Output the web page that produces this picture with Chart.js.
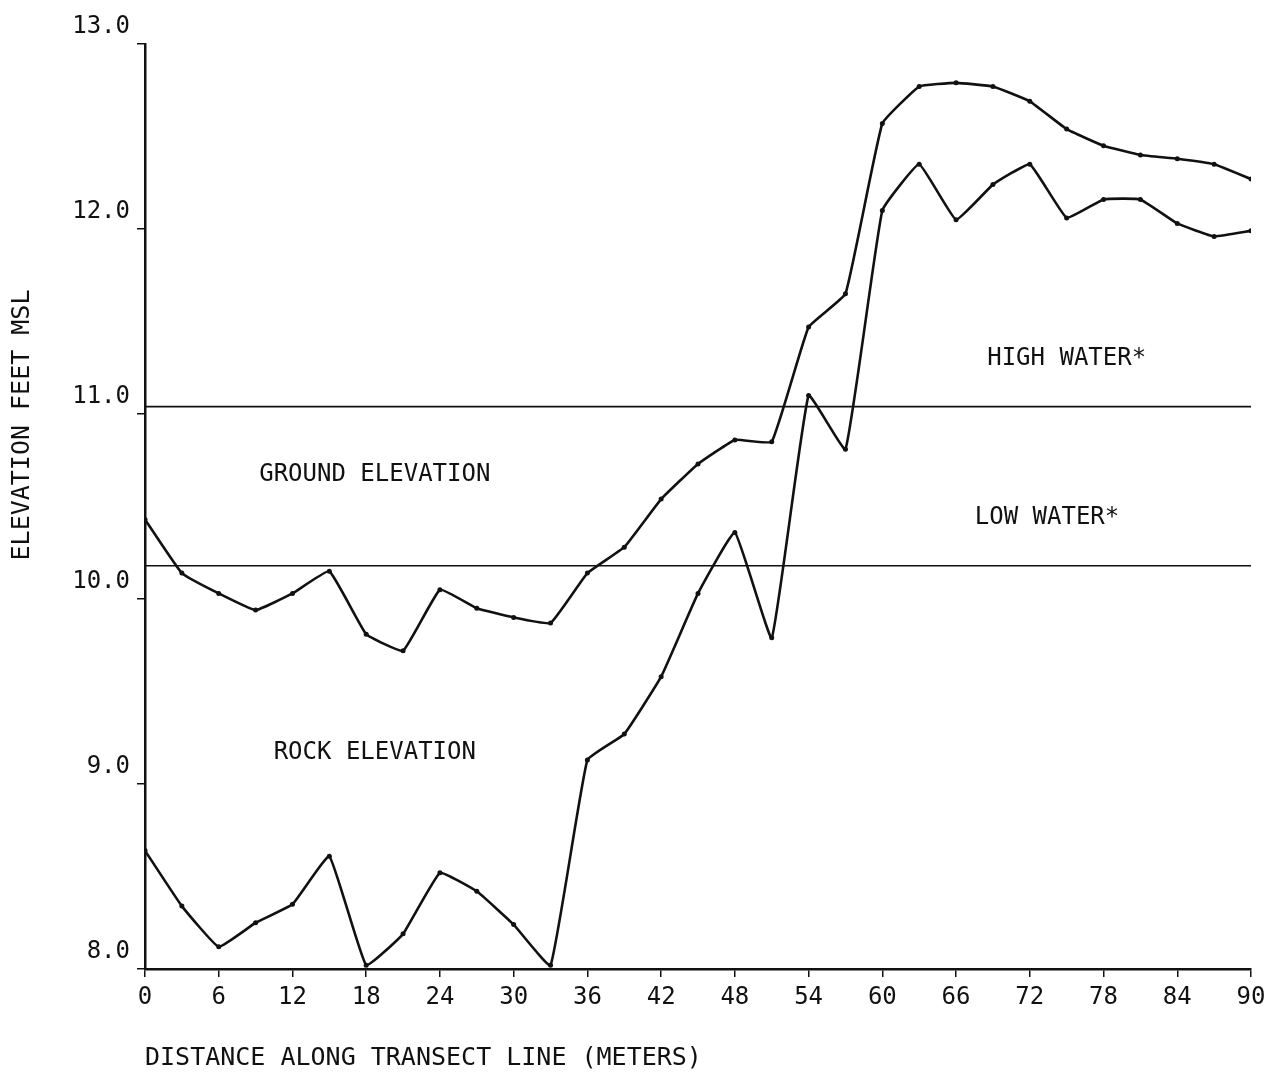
<!DOCTYPE html>
<html>
<head>
<meta charset="utf-8">
<script src="https://cdn.jsdelivr.net/npm/chart.js@4"></script>
<style>
  html, body { margin: 0; padding: 0; background: #fff; }
  #wrap { width: 1266px; height: 1074px; }
</style>
</head>
<body>
<div id="wrap"><canvas id="c" width="1266" height="1074"></canvas></div>
<script>
// ---- data ----
const distances = [0, 3, 6, 9, 12, 15, 18, 21, 24, 27, 30, 33, 36, 39, 42, 45, 48, 51, 54, 57, 60, 63, 66, 69, 72, 75, 78, 81, 84, 87, 90];
const groundElevation = [10.43, 10.14, 10.03, 9.94, 10.03, 10.15, 9.81, 9.72, 10.05, 9.95, 9.90, 9.87, 10.14, 10.28, 10.54, 10.73, 10.86, 10.85, 11.47, 11.65, 12.57, 12.77, 12.79, 12.77, 12.69, 12.54, 12.45, 12.40, 12.38, 12.35, 12.27];
const rockElevation = [8.64, 8.34, 8.12, 8.25, 8.35, 8.61, 8.02, 8.19, 8.52, 8.42, 8.24, 8.02, 9.13, 9.27, 9.58, 10.03, 10.36, 9.79, 11.10, 10.81, 12.10, 12.35, 12.05, 12.24, 12.35, 12.06, 12.16, 12.16, 12.03, 11.96, 11.99];
const highWater = 11.04;
const lowWater = 10.18;
const xTicks = [0, 6, 12, 18, 24, 30, 36, 42, 48, 54, 60, 66, 72, 78, 84, 90];
const yTicks = [8.0, 9.0, 10.0, 11.0, 12.0, 13.0];
const labels = [
  { text: 'GROUND ELEVATION', x: 18.7, y: 10.67 },
  { text: 'ROCK ELEVATION', x: 18.7, y: 9.17 },
  { text: 'HIGH WATER*', x: 75.0, y: 11.30 },
  { text: 'LOW WATER*', x: 73.4, y: 10.44 }
];
const xTitle = 'DISTANCE ALONG TRANSECT LINE (METERS)';
const yTitle = 'ELEVATION FEET MSL';

const FONT = '"DejaVu Sans Mono", "Liberation Mono", monospace';
const INK = '#111';

const toPts = (xs, ys) => xs.map((x, i) => ({ x: x, y: ys[i] }));
const hLine = (v) => [{ x: xTicks[0], y: v }, { x: xTicks[xTicks.length - 1], y: v }];

const textPlugin = {
  id: 'texts',
  afterDraw(chart) {
    const ctx = chart.ctx;
    const xs = chart.scales.x, ys = chart.scales.y;
    ctx.save();
    ctx.fillStyle = INK;
    ctx.font = '24px ' + FONT;
    ctx.textAlign = 'center';
    ctx.textBaseline = 'middle';
    labels.forEach(l => {
      ctx.fillText(l.text, xs.getPixelForValue(l.x), ys.getPixelForValue(l.y));
    });
    // x axis title
    ctx.textAlign = 'left';
    ctx.font = '25px ' + FONT;
    ctx.fillText(xTitle, chart.chartArea.left, 1058);
    // y axis title
    ctx.translate(22, 425);
    ctx.rotate(-Math.PI / 2);
    ctx.textAlign = 'center';
    ctx.fillText(yTitle, 0, 0);
    ctx.restore();
  }
};

new Chart(document.getElementById('c'), {
  type: 'line',
  data: {
    datasets: [
      { label: 'Ground elevation', data: toPts(distances, groundElevation), borderColor: INK, backgroundColor: INK, borderWidth: 2.6, pointRadius: 2.5, pointBorderWidth: 0, tension: 0.1 },
      { label: 'Rock elevation', data: toPts(distances, rockElevation), borderColor: INK, backgroundColor: INK, borderWidth: 2.6, pointRadius: 2.5, pointBorderWidth: 0, tension: 0.1 },
      { label: 'High water', data: hLine(highWater), borderColor: INK, borderWidth: 1.6, pointRadius: 0 },
      { label: 'Low water', data: hLine(lowWater), borderColor: INK, borderWidth: 1.6, pointRadius: 0 }
    ]
  },
  options: {
    responsive: false,
    animation: false,
    layout: { padding: { top: 44, right: 15, bottom: 0, left: 0 } },
    plugins: { legend: { display: false }, tooltip: { enabled: false } },
    scales: {
      x: {
        type: 'linear',
        min: 0, max: 90,
        afterBuildTicks: (s) => { s.ticks = xTicks.map(v => ({ value: v })); },
        afterFit: (s) => { s.height = 105; s.paddingLeft = 0; s.paddingRight = 0; },
        border: { display: true, color: INK, width: 2.5 },
        grid: { drawOnChartArea: false, drawTicks: true, tickLength: 8, color: INK, lineWidth: 1.5 },
        ticks: { color: INK, font: { family: FONT, size: 24 }, padding: 6, maxRotation: 0, autoSkip: false }
      },
      y: {
        type: 'linear',
        min: 8, max: 13,
        afterBuildTicks: (s) => { s.ticks = yTicks.map(v => ({ value: v })); },
        afterFit: (s) => { s.width = 145; s.paddingTop = 0; s.paddingBottom = 0; },
        border: { display: true, color: INK, width: 2.5 },
        grid: { drawOnChartArea: false, drawTicks: true, tickLength: 8, color: INK, lineWidth: 1.5 },
        ticks: { color: INK, font: { family: FONT, size: 24 }, padding: 7, labelOffset: -17, callback: (v) => Number(v).toFixed(1) }
      }
    }
  },
  plugins: [textPlugin]
});
</script>
</body>
</html>
